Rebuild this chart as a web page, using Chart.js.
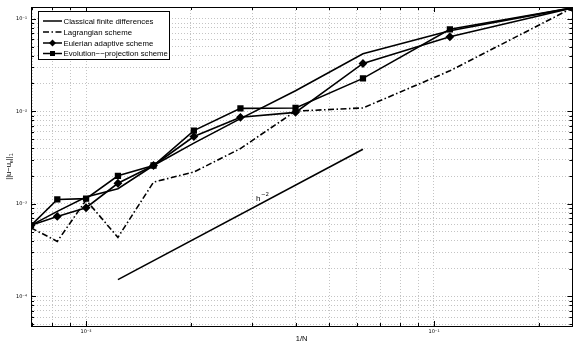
<!DOCTYPE html>
<html lang="en">
<head>
  <meta charset="UTF-8">
  <title>Error vs 1/N</title>
  <script src="https://cdn.jsdelivr.net/npm/chart.js"></script>
  <style>
    body { margin: 0; padding: 0; background: #ffffff; }
    #chart { display: block; }
  </style>
</head>
<body>
  <canvas id="chart" width="578" height="346"></canvas>
  <script>
    // grid sizes N, the x axis is 1/N
    const gridN = [144, 121, 100, 81, 64, 49, 36, 25, 16, 9, 4];

    // error values
    const classical  = [5.87e-4, 8.3e-4, 1.19e-3, 1.46e-3, 2.60e-3, 4.54e-3, 8.34e-3, 1.67e-2, 4.19e-2, 7.42e-2, 0.131];
    const lagrangian = [5.51e-4, 3.94e-4, 1.10e-3, 4.35e-4, 1.72e-3, 2.21e-3, 3.96e-3, 1.005e-2, 1.088e-2, 2.74e-2, 0.131];
    const eulerian   = [5.87e-4, 7.33e-4, 9.10e-4, 1.67e-3, 2.60e-3, 5.34e-3, 8.62e-3, 9.75e-3, 3.29e-2, 6.38e-2, 0.131];
    const evolution  = [5.87e-4, 1.118e-3, 1.14e-3, 2.01e-3, 2.60e-3, 6.19e-3, 1.077e-2, 1.088e-2, 2.27e-2, 7.69e-2, 0.131];

    // reference slope line (two end points)
    const refN    = [81, 16];
    const refVals = [1.52e-4, 3.9e-3];

    const legendNames = ['Classical finite differences', 'Lagrangian scheme', 'Eulerian adaptive scheme', 'Evolution\u2212\u2212projection scheme'];

    const xMin = 1 / 144, xMax = 0.25;
    const yMin = 4.8e-5, yMax = 0.134;

    const toPts = (ns, vals) => ns.map((n, i) => ({ x: 1 / n, y: vals[i] }));

    const sup = { '-': '\u207B', '1': '\u00B9', '2': '\u00B2', '3': '\u00B3', '4': '\u2074' };
    function decadeLabel(v) {
      const e = Math.round(Math.log10(v));
      if (Math.abs(Math.log10(v) - e) > 1e-6) return '';
      return '10' + String(e).split('').map(c => sup[c]).join('');
    }

    // ticks at 1..9 x 10^k inside the range
    function logTicks(scale) {
      const out = [];
      for (let k = -6; k <= 1; k++) {
        for (let m = 1; m <= 9; m++) {
          const v = m * Math.pow(10, k);
          if (v > scale.min * 1.001 && v < scale.max * 0.999) out.push({ value: v });
        }
      }
      scale.ticks = out;
    }

    const tickFont = { family: 'DejaVu Sans', size: 5 };

    const extras = {
      id: 'extras',
      afterDraw(chart) {
        const { ctx, chartArea: a, scales: { x, y } } = chart;
        ctx.save();
        ctx.strokeStyle = '#000';
        ctx.lineWidth = 1;
        ctx.setLineDash([]);

        // inner tick marks on all four sides
        const isMajor = v => Math.abs(Math.log10(v) - Math.round(Math.log10(v))) < 1e-6;
        ctx.beginPath();
        y.ticks.forEach(t => {
          const p = Math.round(y.getPixelForValue(t.value)) + 0.5;
          const len = isMajor(t.value) ? 5 : 3;
          ctx.moveTo(a.left, p); ctx.lineTo(a.left + len, p);
          ctx.moveTo(a.right, p); ctx.lineTo(a.right - len, p);
        });
        x.ticks.forEach(t => {
          const p = Math.round(x.getPixelForValue(t.value)) + 0.5;
          const len = isMajor(t.value) ? 5 : 3;
          ctx.moveTo(p, a.bottom); ctx.lineTo(p, a.bottom - len);
          ctx.moveTo(p, a.top); ctx.lineTo(p, a.top + len);
        });
        ctx.stroke();

        // axes box
        ctx.strokeRect(Math.round(a.left) + 0.5, Math.round(a.top) + 0.5,
          Math.round(a.right - a.left), Math.round(a.bottom - a.top));

        // legend
        const lx = 38, ly = 11, lw = 131, lh = 48;
        ctx.fillStyle = '#fff';
        ctx.fillRect(lx, ly, lw, lh);
        ctx.strokeRect(lx + 0.5, ly + 0.5, lw, lh);
        ctx.font = '7.8px "Liberation Sans", Arial, sans-serif';
        ctx.textBaseline = 'middle';
        ctx.textAlign = 'left';
        const rowY = [21, 32, 43, 53.5];
        chart.data.datasets.slice(0, 4).forEach((ds, i) => {
          const yy = rowY[i];
          ctx.save();
          ctx.lineWidth = 1.5;
          ctx.strokeStyle = '#000';
          ctx.setLineDash(ds.borderDash || []);
          ctx.beginPath();
          ctx.moveTo(43, yy); ctx.lineTo(62, yy);
          ctx.stroke();
          ctx.restore();
          ctx.fillStyle = '#000';
          if (ds.pointStyle === 'rectRot') {
            ctx.beginPath();
            ctx.moveTo(52.5, yy - 3.5); ctx.lineTo(56, yy); ctx.lineTo(52.5, yy + 3.5); ctx.lineTo(49, yy);
            ctx.closePath(); ctx.fill();
          } else if (ds.pointStyle === 'rect') {
            ctx.fillRect(50, yy - 2.5, 5, 5);
          }
          ctx.fillText(legendNames[i], 63.5, yy + 0.5);
        });

        // slope label h^-2
        ctx.font = '8px "Liberation Sans", Arial, sans-serif';
        ctx.textBaseline = 'alphabetic';
        ctx.fillText('h', 256, 201);
        ctx.font = '5.5px "DejaVu Sans", sans-serif';
        ctx.fillText('\u22122', 261, 196);

        // x title
        ctx.font = '7.5px "Liberation Sans", Arial, sans-serif';
        ctx.textAlign = 'center';
        ctx.textBaseline = 'middle';
        ctx.fillText('1/N', (a.left + a.right) / 2, 339);

        // y title ||u-u_e||_1 (rotated)
        ctx.translate(9, (a.top + a.bottom) / 2);
        ctx.rotate(-Math.PI / 2);
        ctx.textAlign = 'left';
        const big = '7.5px "Liberation Sans", Arial, sans-serif';
        const small = '5.5px "Liberation Sans", Arial, sans-serif';
        const parts = [['||u\u2212u', big, 0], ['e', small, 2], ['||', big, 0], ['1', small, 2]];
        let w = 0;
        parts.forEach(p => { ctx.font = p[1]; w += ctx.measureText(p[0]).width; });
        let cx = -w / 2;
        parts.forEach(p => {
          ctx.font = p[1];
          ctx.fillText(p[0], cx, p[2]);
          cx += ctx.measureText(p[0]).width;
        });
        ctx.restore();
      }
    };

    const common = { borderColor: '#000', backgroundColor: '#000', borderWidth: 1.6, tension: 0 };

    new Chart(document.getElementById('chart').getContext('2d'), {
      type: 'line',
      data: {
        datasets: [
          Object.assign({ label: legendNames[0], data: toPts(gridN, classical), pointRadius: 0 }, common),
          Object.assign({ label: legendNames[1], data: toPts(gridN, lagrangian), pointRadius: 0, borderDash: [6, 2.5, 1.5, 2.5] }, common),
          Object.assign({ label: legendNames[2], data: toPts(gridN, eulerian), pointStyle: 'rectRot', pointRadius: 3.3 }, common),
          Object.assign({ label: legendNames[3], data: toPts(gridN, evolution), pointStyle: 'rect', pointRadius: 3.3 }, common),
          Object.assign({ label: 'slope', data: toPts(refN, refVals), pointRadius: 0 }, common)
        ]
      },
      options: {
        responsive: false,
        animation: false,
        events: [],
        layout: { padding: { top: 6, right: 3, left: 0, bottom: 0 } },
        plugins: { legend: { display: false }, tooltip: { enabled: false } },
        scales: {
          x: {
            type: 'logarithmic',
            min: xMin, max: xMax,
            afterBuildTicks: logTicks,
            afterFit: s => { s.height = 20; },
            grid: { color: '#c4c4c4', lineWidth: 1, drawTicks: false },
            border: { display: false, dash: [1, 2] },
            ticks: { autoSkip: false, maxRotation: 0, padding: 3, color: '#000', font: tickFont, callback: v => decadeLabel(v) }
          },
          y: {
            type: 'logarithmic',
            min: yMin, max: yMax,
            afterBuildTicks: logTicks,
            afterFit: s => { s.width = 31; },
            grid: { color: '#c4c4c4', lineWidth: 1, drawTicks: false },
            border: { display: false, dash: [1, 2] },
            ticks: { autoSkip: false, padding: 4, color: '#000', font: tickFont, callback: v => decadeLabel(v) }
          }
        }
      },
      plugins: [extras]
    });
  </script>
</body>
</html>
